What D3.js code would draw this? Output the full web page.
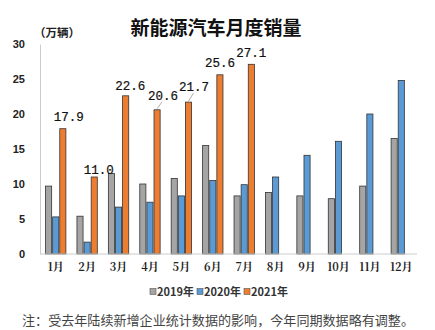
<!DOCTYPE html>
<html><head><meta charset="utf-8">
<script src="https://cdn.jsdelivr.net/npm/d3@7"></script>
<style>body{margin:0;background:#fff;}svg{display:block;}</style>
</head><body>
<svg id="c" width="435" height="330"></svg>
<script>
const months = ["1月","2月","3月","4月","5月","6月","7月","8月","9月","10月","11月","12月"];
const seriesNames = ["2019年","2020年","2021年"];
const s2019 = [9.7,5.4,11.5,10.0,10.8,15.5,8.3,8.8,8.3,7.9,9.7,16.5];
const s2020 = [5.3,1.7,6.7,7.4,8.3,10.5,9.9,11.0,14.1,16.1,20.0,24.8];
const s2021 = [17.9,11.0,22.6,20.6,21.7,25.6,27.1,null,null,null,null,null];
const yTicks = [0,5,10,15,20,25,30];
const colors = ["#a5a5a5","#5b9bd5","#ed7d31"];

const svg = d3.select("#c");
const m = {l:40, r:417, t:44, b:254};
const x = d3.scaleBand().domain(months).range([m.l, m.r]).paddingInner(0.32).paddingOuter(0.16);
const xs = d3.scaleBand().domain(seriesNames).range([0, x.bandwidth()]);
const y = d3.scaleLinear().domain([0,30]).range([m.b, m.t]);

svg.append("text").attr("x",216).attr("y",35).attr("text-anchor","middle")
  .attr("font-family","Noto Sans CJK SC").attr("font-weight","bold").attr("font-size",19).attr("fill","#111")
  .text("新能源汽车月度销量");
svg.append("text").attr("x",34).attr("y",37)
  .attr("font-family","Noto Sans CJK SC").attr("font-weight","bold").attr("font-size",11.5).attr("fill","#222")
  .text("（万辆）");

// y axis
const ya = d3.axisLeft(y).tickValues(yTicks).tickSize(0).tickPadding(15);
const yg = svg.append("g").attr("transform",`translate(${m.l},0)`).call(ya);
yg.select(".domain").attr("stroke","#ccc");
yg.selectAll("text").attr("font-family","Liberation Sans").attr("font-weight","bold").attr("font-size",11).attr("fill","#222");

// bars
const data = [s2019,s2020,s2021];
data.forEach((arr,si)=>{
  svg.append("g").selectAll("rect").data(months.map((mo,i)=>({mo,v:arr[i]})).filter(d=>d.v!=null))
    .join("rect")
    .attr("x",d=>x(d.mo)+xs(seriesNames[si])+0.5)
    .attr("y",d=>y(d.v))
    .attr("width",xs.bandwidth()-1)
    .attr("height",d=>y(0)-y(d.v))
    .attr("fill",colors[si]).attr("stroke","#333").attr("stroke-width",0.8);
});

// x axis
const xa = d3.axisBottom(x).tickSize(0).tickPadding(9);
const xg = svg.append("g").attr("transform",`translate(0,${m.b})`).call(xa);
xg.select(".domain").attr("stroke","#ccc").attr("d",`M${m.l},0H${m.r}`);
xg.selectAll("text").attr("font-family","Noto Serif CJK SC, Noto Sans CJK SC").attr("font-weight","bold").attr("font-size",11).attr("fill","#222");

// data labels
const labelPos = [
  {dx:6, dy:-8, lead:false},
  {dx:4.5, dy:-3, lead:false},
  {dx:4.5, dy:-6, lead:false},
  {dx:6, dy:-10, lead:true},
  {dx:5.5, dy:-11, lead:true},
  {dx:0, dy:-8, lead:false},
  {dx:0, dy:-7, lead:false}
];
s2021.forEach((v,i)=>{
  if(v==null) return;
  const bx = x(months[i])+xs("2021年")+xs.bandwidth()/2;
  const p = labelPos[i];
  const tx = bx+p.dx, ty = y(v)+p.dy;
  if(p.lead){
    svg.append("line").attr("x1",bx).attr("y1",y(v)-1).attr("x2",bx+5).attr("y2",ty+2)
      .attr("stroke","#999").attr("stroke-width",0.8);
  }
  svg.append("text").attr("x",tx).attr("y",ty).attr("text-anchor","middle")
    .attr("font-family","Liberation Mono").attr("font-size",12.5).attr("fill","#111")
    .attr("stroke","#111").attr("stroke-width",0.2)
    .text(v.toFixed(1));
});

// legend
const lg = svg.append("g").attr("transform","translate(150,296)");
let lx = 0;
seriesNames.forEach((n,i)=>{
  lg.append("rect").attr("x",lx).attr("y",-7.5).attr("width",6).attr("height",6)
    .attr("fill",colors[i]).attr("stroke","#555").attr("stroke-width",0.6);
  lg.append("text").attr("x",lx+7).attr("y",0)
    .attr("font-family","Noto Sans CJK SC").attr("font-weight","bold").attr("font-size",11).attr("fill","#333").text(n);
  lx += 47;
});

svg.append("text").attr("x",22).attr("y",325)
  .attr("font-family","Noto Sans CJK SC").attr("font-size",13).attr("fill","#444")
  .attr("textLength",392).attr("lengthAdjust","spacingAndGlyphs")
  .text("注：受去年陆续新增企业统计数据的影响，今年同期数据略有调整。");
</script>
</body></html>
